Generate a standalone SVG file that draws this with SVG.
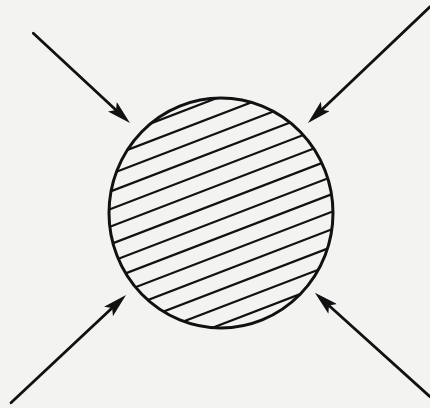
<svg xmlns="http://www.w3.org/2000/svg" width="430" height="408" viewBox="0 0 430 408">
  <style>
    .edge { fill: none; stroke: #111; stroke-width: 2.8; stroke-linecap: round; }
    .outline { fill: none; stroke: #111; stroke-width: 3; }
    .hatch line { stroke: #111; stroke-width: 2.2; }
  </style>
  <defs>
    <marker id="head" viewBox="0 0 24 13" refX="10" refY="6.5" markerWidth="24" markerHeight="13" markerUnits="userSpaceOnUse" orient="auto">
      <path d="M0,0 L24,6.5 L0,13 L5,6.5 z" fill="#111"/>
    </marker>
    <clipPath id="disc">
      <ellipse cx="221" cy="213" rx="112" ry="115"/>
    </clipPath>
  </defs>
  <rect width="430" height="408" fill="#f3f3f1"/>
  <g id="body">
    <g class="hatch" clip-path="url(#disc)">
      <g transform="rotate(-21 221 213)">
        <line x1="80" y1="104.2" x2="362" y2="104.2"/>
        <line x1="80" y1="120.6" x2="362" y2="120.6"/>
        <line x1="80" y1="137.0" x2="362" y2="137.0"/>
        <line x1="80" y1="153.3" x2="362" y2="153.3"/>
        <line x1="80" y1="169.7" x2="362" y2="169.7"/>
        <line x1="80" y1="186.1" x2="362" y2="186.1"/>
        <line x1="80" y1="202.5" x2="362" y2="202.5"/>
        <line x1="80" y1="218.9" x2="362" y2="218.9"/>
        <line x1="80" y1="235.2" x2="362" y2="235.2"/>
        <line x1="80" y1="251.6" x2="362" y2="251.6"/>
        <line x1="80" y1="268.0" x2="362" y2="268.0"/>
        <line x1="80" y1="284.4" x2="362" y2="284.4"/>
        <line x1="80" y1="300.8" x2="362" y2="300.8"/>
        <line x1="80" y1="317.1" x2="362" y2="317.1"/>
      </g>
    </g>
    <ellipse class="outline" cx="221" cy="213" rx="112" ry="115"/>
  </g>
  <g id="connectors">
    <path class="edge" d="M33.3,33.3 L119.7,113.5" marker-end="url(#head)"/>
    <path class="edge" d="M430,6.7 L318.1,113.3" marker-end="url(#head)"/>
    <path class="edge" d="M11,402.7 L115.8,304.6" marker-end="url(#head)"/>
    <path class="edge" d="M430,396.7 L325.3,302.2" marker-end="url(#head)"/>
  </g>
</svg>
